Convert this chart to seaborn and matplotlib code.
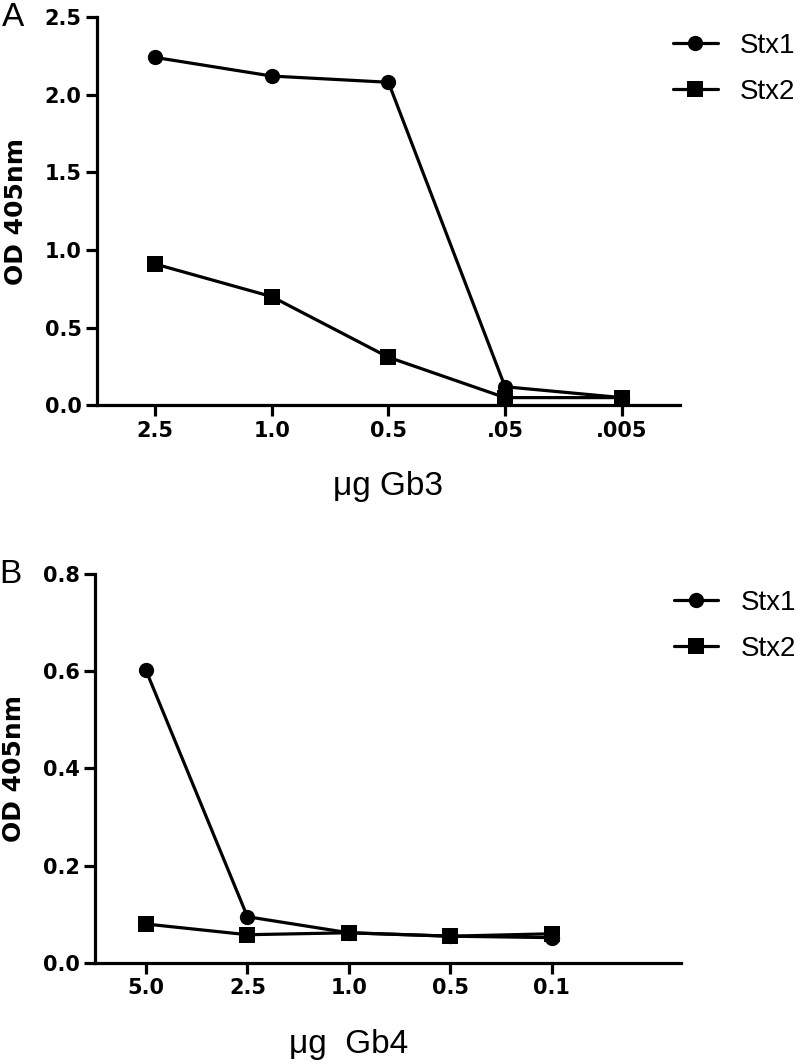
import pandas as pd
import matplotlib.pyplot as plt
import seaborn as sns

# Panel A - Gb3
gb3_dose = ['2.5', '1.0', '0.5', '.05', '.005']
gb3_stx1 = [2.24, 2.12, 2.08, 0.12, 0.05]
gb3_stx2 = [0.91, 0.70, 0.31, 0.05, 0.05]

# Panel B - Gb4
gb4_dose = ['5.0', '2.5', '1.0', '0.5', '0.1']
gb4_stx1 = [0.602, 0.095, 0.062, 0.055, 0.052]
gb4_stx2 = [0.080, 0.058, 0.062, 0.055, 0.060]

toxins = ['Stx1', 'Stx2']

sns.set_theme(style='ticks')
plt.rcParams['font.family'] = ['Liberation Sans', 'DejaVu Sans']
plt.rcParams['text.color'] = 'black'
plt.rcParams['axes.labelcolor'] = 'black'

fig = plt.figure(figsize=(8, 10.64), dpi=100)
fig.patch.set_facecolor('white')


def make_df(dose, s1, s2):
    return pd.DataFrame({
        'dose': dose + dose,
        'od': s1 + s2,
        'toxin': ['Stx1'] * len(dose) + ['Stx2'] * len(dose),
    })


def draw_panel(ax, df, ymax, ystep, xlabel, xmax, letter, leg_y):
    sns.lineplot(data=df, x='dose', y='od', style='toxin', style_order=toxins,
                 markers={'Stx1': 'o', 'Stx2': 's'}, dashes=False, color='black',
                 linewidth=2.3, markersize=11, markeredgewidth=0, ax=ax, sort=False)
    ax.set_xlim(-0.5, xmax)
    ax.set_ylim(0, ymax)
    ticks = [round(i * ystep, 2) for i in range(int(round(ymax / ystep)) + 1)]
    ax.set_yticks(ticks)
    ax.set_yticklabels([f'{t:.1f}' for t in ticks])
    ax.set_facecolor('white')
    sns.despine(ax=ax)
    for sp in ['left', 'bottom']:
        ax.spines[sp].set_linewidth(2.3)
        ax.spines[sp].set_color('black')
    ax.tick_params(axis='both', length=8, width=2.3, color='black',
                   labelsize=15, labelcolor='black', pad=3)
    for lab in ax.get_xticklabels() + ax.get_yticklabels():
        lab.set_fontweight('bold')
        lab.set_family('DejaVu Sans')
    ax.set_ylabel('OD 405nm', fontsize=18, fontweight='bold', family='DejaVu Sans',
                  color='black')
    ax.yaxis.label.set_va('center')
    ax.yaxis.set_label_coords(-0.138, 0.5)
    ax.set_xlabel('')
    ax.text(2, -0.21, xlabel, transform=ax.get_xaxis_transform(),
            ha='center', va='center', fontsize=24, color='black')
    leg = ax.legend(frameon=False, loc='upper left', bbox_to_anchor=(0.955, leg_y),
                    fontsize=20, handlelength=1.6, handletextpad=0.8,
                    labelspacing=0.72, borderaxespad=0.3)
    for h in leg.legend_handles:
        h.set_linewidth(2.3)
        h.set_markersize(11)
    for t in leg.get_texts():
        t.set_color('black')
    ax.text(-0.163, 1.0, letter, transform=ax.transAxes, fontsize=24,
            ha='left', va='center', color='black')


ax1 = fig.add_axes([0.121, 0.619, 0.729, 0.365])
draw_panel(ax1, make_df(gb3_dose, gb3_stx1, gb3_stx2), 2.5, 0.5,
           'μg Gb3', 4.5, 'A', 1.01)

ax2 = fig.add_axes([0.119, 0.095, 0.732, 0.3655])
draw_panel(ax2, make_df(gb4_dose, gb4_stx1, gb4_stx2), 0.8, 0.2,
           'μg  Gb4', 5.27, 'B', 1.01)

fig.savefig('out.png', dpi=100, facecolor='white')
